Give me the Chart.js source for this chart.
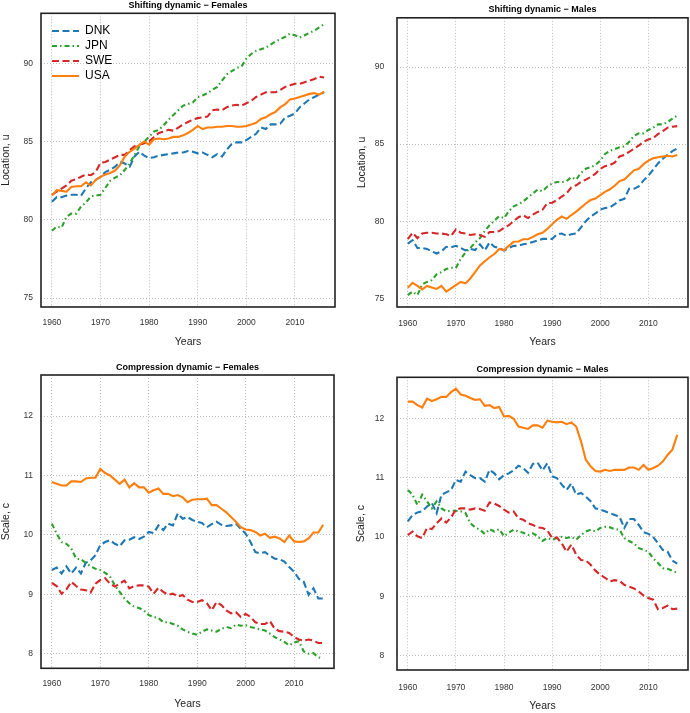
<!DOCTYPE html>
<html>
<head>
<meta charset="utf-8">
<script src="https://cdn.jsdelivr.net/npm/chart.js@4.4.1/dist/chart.umd.min.js"></script>
<style>
  html, body { margin: 0; padding: 0; background: #fff; }
  #wrap { position: relative; width: 690px; height: 713px; }
  canvas { position: absolute; }
</style>
</head>
<body>
<div id="wrap">
  <canvas id="c1" width="345" height="355" style="left:0;top:0"></canvas>
  <canvas id="c2" width="345" height="355" style="left:345px;top:0"></canvas>
  <canvas id="c3" width="345" height="358" style="left:0;top:355px"></canvas>
  <canvas id="c4" width="345" height="358" style="left:345px;top:355px"></canvas>
</div>
<script>
// Categories
var years = [1960, 1961, 1962, 1963, 1964, 1965, 1966, 1967, 1968, 1969,
  1970, 1971, 1972, 1973, 1974, 1975, 1976, 1977, 1978, 1979,
  1980, 1981, 1982, 1983, 1984, 1985, 1986, 1987, 1988, 1989,
  1990, 1991, 1992, 1993, 1994, 1995, 1996, 1997, 1998, 1999,
  2000, 2001, 2002, 2003, 2004, 2005, 2006, 2007, 2008, 2009,
  2010, 2011, 2012, 2013, 2014, 2015, 2016];
var countries = ['DNK', 'JPN', 'SWE', 'USA'];

// Tick labels
var xTicks = [1960, 1970, 1980, 1990, 2000, 2010];
var locationTicks = [75, 80, 85, 90];
var scaleTicks = [8, 9, 10, 11, 12];

// Shifting dynamic - Females (location u)
var locFemDNK = [81.15, 81.45, 81.45, 81.55, 81.6, 81.6, 81.55, 82.0, 82.4, 82.55,
  82.75, 83.05, 83.2, 83.4, 83.7, 83.6, 83.4, 84.05, 84.35, 84.1,
  83.95, 84.0, 84.1, 84.15, 84.2, 84.25, 84.3, 84.3, 84.4, 84.35,
  84.25, 84.3, 84.15, 84.0, 84.2, 84.05, 84.5, 84.85, 84.95, 84.95,
  85.1, 85.3, 85.5, 85.9, 85.8, 86.1, 86.1, 86.15, 86.55, 86.65,
  86.8, 87.2, 87.45, 87.7, 87.85, 88.0, 88.15];
var locFemJPN = [79.3, 79.57, 79.5, 80.2, 80.4, 80.4, 80.85, 81.1, 81.5, 81.55,
  81.6, 82.05, 82.5, 82.7, 82.85, 83.2, 83.6, 84.15, 84.7, 85.0,
  85.3, 85.65, 85.75, 86.05, 86.4, 86.7, 87.0, 87.3, 87.4, 87.5,
  87.85, 87.95, 88.1, 88.3, 88.5, 88.9, 89.3, 89.5, 89.7, 89.8,
  90.3, 90.6, 90.8, 90.9, 91.0, 91.2, 91.4, 91.55, 91.7, 91.9,
  91.8, 91.65, 91.8, 91.95, 92.1, 92.3, 92.5];
var locFemSWE = [81.6, 81.8, 82.0, 82.2, 82.5, 82.6, 82.75, 82.9, 82.85, 83.05,
  83.65, 83.7, 83.85, 84.0, 84.15, 84.15, 84.45, 84.7, 84.8, 84.9,
  85.0, 85.3, 85.55, 85.65, 85.75, 85.7, 85.9, 86.1, 86.25, 86.4,
  86.5, 86.55, 86.6, 87.0, 87.05, 87.0, 87.2, 87.3, 87.35, 87.3,
  87.45, 87.6, 87.85, 88.0, 88.15, 88.15, 88.15, 88.3, 88.5, 88.6,
  88.7, 88.7, 88.8, 88.9, 89.0, 89.15, 89.1];
var locFemUSA = [81.55, 81.9, 81.85, 81.8, 82.1, 82.15, 82.15, 82.4, 82.2, 82.55,
  82.75, 82.9, 83.0, 83.15, 83.5, 84.05, 84.35, 84.55, 84.8, 85.0,
  84.8, 85.15, 85.2, 85.15, 85.2, 85.3, 85.3, 85.4, 85.55, 85.75,
  86.0, 85.8, 85.9, 85.9, 85.95, 85.95, 86.0, 86.0, 85.95, 85.95,
  86.0, 86.1, 86.2, 86.45, 86.55, 86.75, 86.9, 87.2, 87.4, 87.7,
  87.75, 87.85, 87.95, 88.05, 88.1, 88.0, 88.2];

// Shifting dynamic - Males (location u)
var locMalDNK = [78.55, 78.77, 78.26, 78.26, 78.2, 78.04, 77.9, 78.04, 78.34, 78.3,
  78.4, 78.26, 78.1, 78.2, 78.13, 78.5, 78.1, 78.62, 78.34, 78.26,
  78.1, 78.26, 78.4, 78.4, 78.5, 78.55, 78.65, 78.75, 78.85, 78.85,
  78.85, 79.15, 79.2, 79.05, 79.15, 79.2, 79.6, 80.0, 80.3, 80.5,
  80.75, 80.85, 80.9, 81.1, 81.35, 81.45, 82.1, 82.1, 82.25, 82.65,
  82.95, 83.35, 83.75, 84.05, 84.3, 84.55, 84.72];
var locMalJPN = [75.2, 75.43, 75.2, 75.9, 76.06, 76.17, 76.55, 76.7, 76.9, 76.98,
  76.98, 77.55, 77.98, 78.26, 78.62, 78.9, 79.36, 79.74, 80.04, 80.32,
  80.2, 80.64, 80.96, 81.1, 81.28, 81.55, 81.8, 82.05, 81.95, 82.25,
  82.44, 82.54, 82.54, 82.6, 82.86, 82.7, 83.14, 83.4, 83.5, 83.65,
  83.93, 84.36, 84.57, 84.68, 84.8, 84.85, 85.15, 85.53, 85.7, 85.7,
  85.92, 86.07, 86.28, 86.28, 86.43, 86.65, 86.86];
var locMalSWE = [78.83, 79.25, 78.9, 79.2, 79.25, 79.25, 79.2, 79.2, 79.15, 79.05,
  79.47, 79.25, 79.2, 79.1, 79.15, 79.1, 78.98, 79.3, 79.3, 79.36,
  79.57, 79.74, 80.0, 80.26, 80.38, 80.2, 80.43, 80.6, 80.74, 81.17,
  81.2, 81.37, 81.6, 81.8, 82.2, 82.33, 82.55, 82.7, 82.86, 83.08,
  83.4, 83.57, 83.65, 83.8, 84.2, 84.3, 84.5, 84.7, 84.9, 85.15,
  85.3, 85.4, 85.65, 85.85, 86.07, 86.13, 86.17];
var locMalUSA = [75.68, 76.0, 75.8, 75.57, 75.8, 75.7, 75.6, 75.8, 75.43, 75.64,
  75.85, 76.06, 75.96, 76.28, 76.7, 77.13, 77.4, 77.66, 77.87, 78.2,
  78.13, 78.4, 78.66, 78.68, 78.83, 78.83, 78.98, 79.15, 79.25, 79.5,
  79.8, 80.09, 80.3, 80.15, 80.4, 80.62, 80.88, 81.15, 81.37, 81.47,
  81.69, 81.9, 82.07, 82.3, 82.6, 82.7, 83.0, 83.3, 83.4, 83.7,
  83.93, 84.08, 84.15, 84.2, 84.25, 84.2, 84.3];

// Compression dynamic - Females (scale c)
var scaFemDNK = [9.41, 9.45, 9.35, 9.47, 9.35, 9.45, 9.35, 9.53, 9.57, 9.66,
  9.83, 9.88, 9.91, 9.85, 9.81, 9.91, 9.92, 9.96, 9.93, 9.97,
  10.05, 10.03, 10.16, 10.08, 10.19, 10.16, 10.36, 10.27, 10.3, 10.25,
  10.22, 10.2, 10.13, 10.18, 10.22, 10.17, 10.15, 10.16, 10.19, 10.1,
  10.02, 9.88, 9.71, 9.69, 9.71, 9.65, 9.6, 9.59, 9.55, 9.46,
  9.38, 9.26, 9.21, 8.99, 9.1, 8.93, 8.93];
var scaFemJPN = [10.19, 10.02, 9.88, 9.85, 9.77, 9.6, 9.59, 9.53, 9.47, 9.43,
  9.41, 9.36, 9.3, 9.15, 9.04, 8.93, 8.85, 8.79, 8.77, 8.73,
  8.65, 8.62, 8.6, 8.53, 8.53, 8.5, 8.47, 8.41, 8.37, 8.34,
  8.32, 8.37, 8.41, 8.39, 8.37, 8.42, 8.45, 8.43, 8.49, 8.47,
  8.48, 8.45, 8.43, 8.41, 8.39, 8.34, 8.28, 8.24, 8.2, 8.14,
  8.19, 8.21, 8.04, 8.0, 8.01, 7.94, 7.92];
var scaFemSWE = [9.19, 9.14, 9.01, 9.08, 9.21, 9.14, 9.08, 9.07, 9.03, 9.18,
  9.24, 9.27, 9.18, 9.13, 9.18, 9.23, 9.1, 9.14, 9.15, 9.15,
  9.13, 9.01, 9.11, 9.04, 8.99, 9.01, 8.96, 8.99, 8.91, 8.87,
  8.87, 8.9, 8.85, 8.73, 8.87, 8.82, 8.73, 8.68, 8.7, 8.62,
  8.67, 8.62, 8.53, 8.5, 8.5, 8.55, 8.42, 8.38, 8.37, 8.35,
  8.28, 8.24, 8.22, 8.24, 8.22, 8.18, 8.18];
var scaFemUSA = [10.89, 10.86, 10.83, 10.83, 10.9, 10.9, 10.89, 10.95, 10.96, 10.96,
  11.11, 11.04, 11.0, 10.93, 10.86, 10.93, 10.8, 10.87, 10.8, 10.8,
  10.71, 10.75, 10.78, 10.69, 10.69, 10.65, 10.67, 10.63, 10.55, 10.59,
  10.6, 10.6, 10.61, 10.5, 10.5, 10.44, 10.38, 10.3, 10.22, 10.13,
  10.09, 10.08, 10.05, 9.99, 10.02, 9.95, 9.97, 9.94, 9.88, 9.99,
  9.89, 9.88, 9.89, 9.94, 10.04, 10.04, 10.17];

// Compression dynamic - Males (scale c)
var scaMalDNK = [10.26, 10.37, 10.41, 10.43, 10.51, 10.57, 10.4, 10.71, 10.75, 10.79,
  10.96, 10.93, 11.1, 11.04, 10.99, 10.99, 10.93, 11.13, 11.07, 10.97,
  11.04, 11.07, 11.12, 11.2, 11.16, 11.08, 11.23, 11.25, 11.12, 11.24,
  11.02, 10.99, 10.88, 10.79, 10.9, 10.71, 10.74, 10.68, 10.6, 10.48,
  10.46, 10.43, 10.4, 10.37, 10.34, 10.15, 10.3, 10.3, 10.2, 10.08,
  10.05, 10.0, 9.89, 9.78, 9.75, 9.6, 9.55];
var scaMalJPN = [10.79, 10.71, 10.54, 10.71, 10.6, 10.48, 10.6, 10.48, 10.43, 10.44,
  10.44, 10.43, 10.4, 10.23, 10.16, 10.12, 10.05, 10.13, 10.09, 10.13,
  10.01, 10.07, 10.12, 10.09, 10.07, 10.03, 10.06, 10.01, 9.93, 9.98,
  9.95, 9.98, 10.0, 9.98, 10.0, 9.95, 10.03, 10.09, 10.12, 10.09,
  10.15, 10.17, 10.16, 10.13, 10.12, 9.98, 9.93, 9.89, 9.81, 9.78,
  9.75, 9.64, 9.56, 9.47, 9.46, 9.43, 9.39];
var scaMalSWE = [10.03, 10.09, 10.01, 9.98, 10.15, 10.13, 10.23, 10.31, 10.24, 10.33,
  10.46, 10.48, 10.48, 10.46, 10.48, 10.47, 10.44, 10.58, 10.56, 10.52,
  10.46, 10.41, 10.43, 10.31, 10.29, 10.23, 10.2, 10.16, 10.15, 10.11,
  9.98, 9.99, 9.89, 9.75, 9.87, 9.7, 9.61, 9.6, 9.53, 9.43,
  9.36, 9.31, 9.25, 9.27, 9.26, 9.19, 9.16, 9.13, 9.08, 9.01,
  8.97, 8.94, 8.78, 8.8, 8.84, 8.78, 8.79];
var scaMalUSA = [12.28, 12.28, 12.22, 12.18, 12.33, 12.29, 12.32, 12.36, 12.36, 12.44,
  12.5, 12.4, 12.38, 12.34, 12.31, 12.32, 12.21, 12.22, 12.17, 12.19,
  12.03, 12.04, 11.99, 11.86, 11.84, 11.82, 11.88, 11.88, 11.84, 11.96,
  11.94, 11.93, 11.94, 11.9, 11.93, 11.86, 11.61, 11.3, 11.19, 11.11,
  11.1, 11.13, 11.11, 11.13, 11.13, 11.13, 11.17, 11.17, 11.13, 11.21,
  11.13, 11.16, 11.2, 11.27, 11.38, 11.47, 11.72];

var colors = ['#1f77b4', '#2ca02c', '#d62728', '#ff7f0e'];
var dashes = [[7, 3.5], [5, 3, 1.5, 3], [7, 3.5], []];
var FONT = '"Liberation Sans", Arial, Helvetica, sans-serif';

// Box round the plot region, as in base R graphics
var boxPlugin = {
  id: 'box',
  afterDatasetsDraw: function (chart) {
    var a = chart.chartArea;
    var c = chart.ctx;
    c.save();
    c.strokeStyle = '#222';
    c.lineWidth = 1.6;
    c.strokeRect(a.left, a.top, a.right - a.left, a.bottom - a.top);
    c.restore();
  }
};

// Nudge the in-plot legend to its inset place
var legendInset = {
  id: 'legendInset',
  afterLayout: function (chart) {
    if (chart.options.plugins.legend.display) {
      chart.legend.left = chart.chartArea.left + 8;
      chart.legend.top = chart.chartArea.top + 8.7;
    }
  }
};

function makeChart(id, title, yTitle, vals, yMin, yMax, yTicks, L, showLegend) {
  var ctx = document.getElementById(id).getContext('2d');

  var datasets = countries.map(function (name, i) {
    return {
      label: name,
      data: years.map(function (yr, j) { return { x: yr, y: vals[i][j] }; }),
      borderColor: colors[i],
      backgroundColor: colors[i],
      borderWidth: 2.1,
      borderDash: dashes[i],
      pointRadius: 0,
      pointStyle: 'line',
      tension: 0,
      fill: false,
      order: 4 - i
    };
  });

  return new Chart(ctx, {
    type: 'line',
    data: { datasets: datasets },
    options: {
      responsive: false,
      animation: false,
      layout: { padding: { left: 0, right: L.padRight, top: 0, bottom: 0 } },
      plugins: {
        title: {
          display: true,
          text: title,
          fullSize: false,
          color: '#000',
          font: { family: FONT, size: 9, weight: 'bold' },
          padding: { top: L.titleTop, bottom: L.titleBottom }
        },
        legend: {
          display: showLegend,
          position: 'chartArea',
          align: 'start',
          labels: {
            usePointStyle: true,
            pointStyle: 'line',
            pointStyleWidth: 27,
            padding: 3,
            color: '#000',
            font: { family: FONT, size: 12 },
            sort: function (a, b) { return a.datasetIndex - b.datasetIndex; },
            // point-style items lose the dataset dash, so copy it back
            generateLabels: function (chart) {
              var items = Chart.defaults.plugins.legend.labels.generateLabels(chart);
              items.forEach(function (it) {
                var ds = chart.data.datasets[it.datasetIndex];
                it.lineDash = ds.borderDash;
                it.strokeStyle = ds.borderColor;
                it.lineWidth = 2.1;
              });
              return items;
            }
          }
        },
        tooltip: { enabled: false }
      },
      scales: {
        x: {
          type: 'linear',
          min: 1957.76,
          max: 2018.24,
          afterBuildTicks: function (s) {
            s.ticks = xTicks.map(function (v) { return { value: v }; });
          },
          afterFit: function (s) { s.height = L.xHeight; },
          ticks: {
            autoSkip: false,
            maxRotation: 0,
            padding: L.xTickPad,
            color: '#333',
            font: { family: FONT, size: 8.5 },
            callback: function (v) { return String(v); }
          },
          grid: { color: '#bdbdbd', lineWidth: 1, drawTicks: false },
          border: { display: false, dash: [1, 2] },
          title: {
            display: true,
            text: 'Years',
            color: '#222',
            font: { family: FONT, size: 10.5 },
            padding: { top: 0, bottom: L.xTitleBottom }
          }
        },
        y: {
          type: 'linear',
          min: yMin,
          max: yMax,
          afterBuildTicks: function (s) {
            s.ticks = yTicks.map(function (v) { return { value: v }; });
          },
          afterFit: function (s) { s.width = L.yWidth; },
          ticks: {
            autoSkip: false,
            padding: L.yTickPad,
            color: '#333',
            font: { family: FONT, size: 8.5 },
            callback: function (v) { return String(v); }
          },
          grid: { color: '#bdbdbd', lineWidth: 1, drawTicks: false },
          border: { display: false, dash: [1, 2] },
          title: {
            display: true,
            text: yTitle,
            color: '#222',
            font: { family: FONT, size: 10.5 },
            padding: { top: L.yTitleTop, bottom: 0 }
          }
        }
      }
    },
    plugins: [boxPlugin, legendInset]
  });
}

var leftTop = { padRight: 10, titleTop: 0, titleBottom: 2.5, yWidth: 41, xHeight: 48,
  yTickPad: 8, xTickPad: 11, xTitleBottom: 6.7, yTitleTop: 0 };
var rightTop = { padRight: 2, titleTop: 0, titleBottom: 2.5, yWidth: 52, xHeight: 48,
  yTickPad: 12.7, xTickPad: 12, xTitleBottom: 7, yTitleTop: 10.7 };
var leftBottom = { padRight: 11, titleTop: 7.3, titleBottom: 1.9, yWidth: 41, xHeight: 44.7,
  yTickPad: 8, xTickPad: 10, xTitleBottom: 2.4, yTitleTop: 0 };
var rightBottom = { padRight: 2, titleTop: 9.6, titleBottom: 1.9, yWidth: 52, xHeight: 43,
  yTickPad: 12.7, xTickPad: 13, xTitleBottom: 1, yTitleTop: 9.7 };

makeChart('c1', 'Shifting dynamic \u2212 Females', 'Location, u',
  [locFemDNK, locFemJPN, locFemSWE, locFemUSA], 74.43, 93.2, locationTicks, leftTop, true);
makeChart('c2', 'Shifting dynamic \u2212 Males', 'Location, u',
  [locMalDNK, locMalJPN, locMalSWE, locMalUSA], 74.43, 93.2, locationTicks, rightTop, false);
makeChart('c3', 'Compression dynamic \u2212 Females', 'Scale, c',
  [scaFemDNK, scaFemJPN, scaFemSWE, scaFemUSA], 7.755, 12.69, scaleTicks, leftBottom, false);
makeChart('c4', 'Compression dynamic \u2212 Males', 'Scale, c',
  [scaMalDNK, scaMalJPN, scaMalSWE, scaMalUSA], 7.755, 12.69, scaleTicks, rightBottom, false);
</script>
</body>
</html>
